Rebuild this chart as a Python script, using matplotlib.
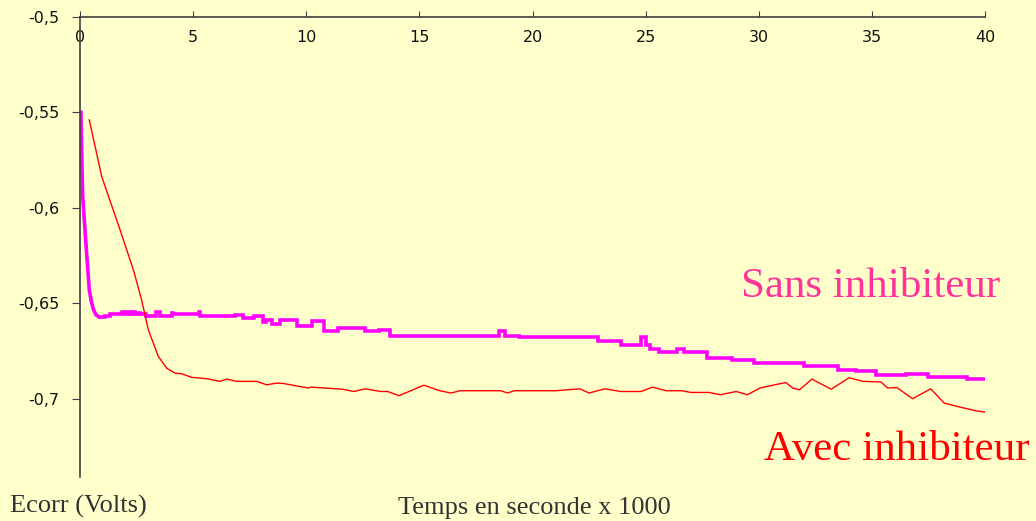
import matplotlib
matplotlib.use("Agg")
import matplotlib.pyplot as plt
from matplotlib.ticker import FuncFormatter

# Sans inhibiteur (magenta, stepped after initial drop)
t_sans = [0.04, 0.08, 0.12, 0.2, 0.27, 0.35, 0.41, 0.5, 0.59, 0.7, 0.88, 1.1, 1.33,
          1.77, 1.86, 2.0, 2.1, 2.2, 2.3, 2.45, 2.55, 2.65, 2.9, 3.36, 3.54, 4.05, 4.1,
          5.27, 5.3, 6.85, 7.2, 7.7, 8.1, 8.2, 8.5, 8.85, 9.6, 10.25, 10.8, 11.4, 12.6,
          13.2, 13.7, 18.5, 18.8, 19.4, 22.9, 23.9, 24.8, 25.0, 25.2, 25.6, 26.4, 26.7,
          27.7, 28.8, 29.8, 32.0, 33.5, 34.3, 35.2, 36.5, 37.5, 39.2, 40.0]
v_sans = [-0.549, -0.575, -0.594, -0.608, -0.620, -0.633, -0.643, -0.649, -0.653, -0.656,
          -0.6574, -0.6568, -0.6557, -0.6555, -0.6548, -0.6556, -0.6547, -0.6555, -0.6548,
          -0.6556, -0.6549, -0.6556, -0.6569, -0.6547, -0.6569, -0.6550, -0.6557, -0.6548,
          -0.6569, -0.6560, -0.6576, -0.6566, -0.6597, -0.6585, -0.6606, -0.6590, -0.6618,
          -0.6595, -0.6647, -0.6627, -0.6647, -0.6639, -0.6670, -0.6644, -0.6670, -0.6679,
          -0.6696, -0.6719, -0.6674, -0.6719, -0.6738, -0.6756, -0.6738, -0.6757, -0.6787,
          -0.6796, -0.6813, -0.6827, -0.6848, -0.6857, -0.6878, -0.6869, -0.6888, -0.6897,
          -0.6897]
drop_end = 10  # index where the initial drop ends and steps begin

# Avec inhibiteur (red, thin)
t_avec = [0.41, 0.96, 1.77, 2.36, 2.72, 3.02, 3.46, 3.83, 4.2, 4.49, 4.94, 5.6, 6.19, 6.48,
          6.93, 7.81, 8.25, 8.69, 8.99, 10.09, 10.2, 11.6, 12.1, 12.6, 13.3, 13.6, 14.1,
          15.2, 15.9, 16.4, 16.8, 18.6, 18.9, 19.2, 21.0, 22.1, 22.5, 23.2, 23.9, 24.8,
          25.3, 25.9, 26.6, 27.0, 27.8, 28.3, 29.0, 29.5, 30.05, 30.7, 31.2, 31.5, 31.8,
          32.35, 33.2, 34.0, 34.6, 35.4, 35.7, 36.1, 36.8, 37.6, 38.2, 38.9, 39.6, 40.0]
v_avec = [-0.5539, -0.5836, -0.6115, -0.6325, -0.648, -0.6639, -0.6778, -0.684, -0.6866,
          -0.6869, -0.6888, -0.6895, -0.6909, -0.6897, -0.6909, -0.6909, -0.6927, -0.6918,
          -0.692, -0.6944, -0.6939, -0.6950, -0.6962, -0.6948, -0.6962, -0.6962, -0.6984,
          -0.6929, -0.6958, -0.6970, -0.6958, -0.6958, -0.6970, -0.6958, -0.6958, -0.6948,
          -0.6970, -0.6948, -0.6962, -0.6962, -0.6939, -0.6958, -0.6958, -0.6967, -0.6967,
          -0.6979, -0.6962, -0.6979, -0.6944, -0.6927, -0.6915, -0.6944, -0.6953, -0.6897,
          -0.6950, -0.6890, -0.6909, -0.6912, -0.6944, -0.6941, -0.7000, -0.6948, -0.7023,
          -0.7044, -0.7063, -0.7070]

x_ticks = [0, 5, 10, 15, 20, 25, 30, 35, 40]
y_ticks = [-0.5, -0.55, -0.6, -0.65, -0.7]

bg = "#FFFFCC"
W, H = 1036, 521
fig = plt.figure(figsize=(W / 100, H / 100), dpi=100, facecolor=bg)
ax = fig.add_axes([80 / W, 1 - 477 / H, 905 / W, 460 / H])
ax.set_facecolor(bg)

mag = "#FF00FF"
ax.plot(t_sans[:drop_end + 1], v_sans[:drop_end + 1], color=mag, lw=2.6,
        solid_capstyle="butt")
ax.step(t_sans[drop_end:], v_sans[drop_end:], where="post", color=mag, lw=2.6,
        solid_joinstyle="miter")
ax.plot(t_avec, v_avec, color="#FF0000", lw=1.0)

ax.set_xlim(0, 40)
ax.set_ylim(-0.741, -0.5)

for s in ["right", "bottom"]:
    ax.spines[s].set_visible(False)
for s in ["left", "top"]:
    ax.spines[s].set_color("#404040")
    ax.spines[s].set_linewidth(1.2)

ax.set_xticks(x_ticks)
ax.set_yticks(y_ticks)
ax.xaxis.set_ticks_position("top")
ax.tick_params(axis="x", top=True, labeltop=True, bottom=False, labelbottom=False,
               direction="out", length=4, color="#404040", pad=-24, labelsize=11.5)
ax.tick_params(axis="y", direction="out", length=6, color="#404040", labelsize=11.5, pad=9)
ax.xaxis.set_major_formatter(FuncFormatter(lambda v, p: f"{v:g}"))
ax.yaxis.set_major_formatter(FuncFormatter(lambda v, p: f"{v:g}".replace(".", ",")))
for lab in ax.get_xticklabels() + ax.get_yticklabels():
    lab.set_fontfamily("DejaVu Sans")
    lab.set_color("#111111")

fig.text(1000 / W, 1 - 297 / H, "Sans inhibiteur", color="#FF3399", fontsize=31,
         family="Liberation Serif", ha="right", va="baseline")
fig.text(1030 / W, 1 - 460 / H, "Avec inhibiteur", color="#FF0000", fontsize=31,
         family="Liberation Serif", ha="right", va="baseline")

fig.text(10 / W, 1 - 513 / H, "Ecorr (Volts)", color="#333333", fontsize=19,
         family="Liberation Serif", ha="left", va="baseline")
fig.text(534 / W, 1 - 514 / H, "Temps en seconde x 1000", color="#333333", fontsize=19,
         family="Liberation Serif", ha="center", va="baseline")

fig.savefig("out.png", dpi=100, facecolor=bg)
